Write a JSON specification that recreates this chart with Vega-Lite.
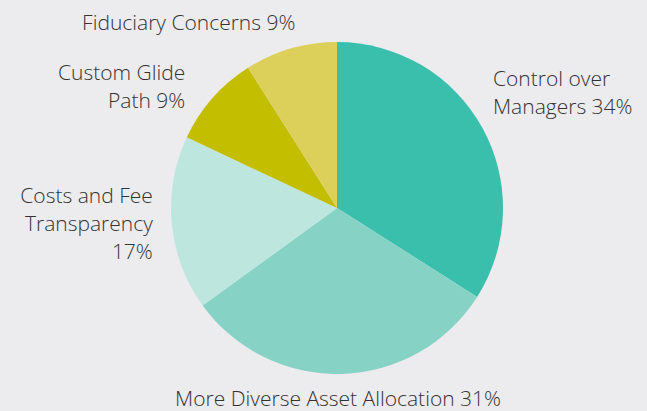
{
  "$schema": "https://vega.github.io/schema/vega-lite/v6.json",
  "width": 620,
  "height": 410,
  "autosize": {"type": "none"},
  "padding": {"left": 27, "top": 3, "right": 0, "bottom": 0},
  "background": "#ECEBEE",
  "config": {"view": {"stroke": null}},
  "data": {
    "values": [
      {"idx": 1, "cat": "Control over Managers", "pct": 34, "label": "Control over\nManagers 34%"},
      {"idx": 2, "cat": "More Diverse Asset Allocation", "pct": 31, "label": "More Diverse Asset Allocation 31%"},
      {"idx": 3, "cat": "Costs and Fee Transparency", "pct": 17, "label": "Costs and Fee\nTransparency\n17%"},
      {"idx": 4, "cat": "Custom Glide Path", "pct": 9, "label": "Custom Glide\nPath 9%"},
      {"idx": 5, "cat": "Fiduciary Concerns", "pct": 9, "label": "Fiduciary Concerns 9%"}
    ]
  },
  "encoding": {
    "theta": {"field": "pct", "type": "quantitative", "stack": true, "scale": {"domain": [0, 100]}},
    "order": {"field": "idx", "type": "quantitative"}
  },
  "layer": [
    {
      "mark": {"type": "arc", "outerRadius": 166},
      "encoding": {
        "color": {
          "field": "cat",
          "type": "nominal",
          "legend": null,
          "scale": {
            "domain": ["Control over Managers", "More Diverse Asset Allocation", "Costs and Fee Transparency", "Custom Glide Path", "Fiduciary Concerns"],
            "range": ["#3BBFAD", "#86D3C6", "#BDE6DF", "#C4BE00", "#DCD05A"]
          }
        }
      }
    },
    {
      "mark": {"type": "text", "radius": 178, "align": "left", "baseline": "middle", "dy": -42, "lineBreak": "\n", "lineHeight": 28, "font": "Open Sans", "fontWeight": 300, "fontSize": 21, "color": "#333333"},
      "encoding": {"text": {"condition": {"test": "datum.idx == 1", "field": "label"}, "value": ""}}
    },
    {
      "mark": {"type": "text", "radius": 192, "align": "center", "baseline": "middle", "dx": -5, "lineBreak": "\n", "lineHeight": 28, "font": "Open Sans", "fontWeight": 300, "fontSize": 21, "color": "#333333"},
      "encoding": {"text": {"condition": {"test": "datum.idx == 2", "field": "label"}, "value": ""}}
    },
    {
      "mark": {"type": "text", "radius": 185, "align": "right", "baseline": "middle", "dy": -28, "lineBreak": "\n", "lineHeight": 28, "font": "Open Sans", "fontWeight": 300, "fontSize": 21, "color": "#333333"},
      "encoding": {"text": {"condition": {"test": "datum.idx == 3", "field": "label"}, "value": ""}}
    },
    {
      "mark": {"type": "text", "radius": 185, "align": "right", "baseline": "middle", "dx": -13, "dy": -12, "lineBreak": "\n", "lineHeight": 28, "font": "Open Sans", "fontWeight": 300, "fontSize": 21, "color": "#333333"},
      "encoding": {"text": {"condition": {"test": "datum.idx == 4", "field": "label"}, "value": ""}}
    },
    {
      "mark": {"type": "text", "radius": 192, "align": "right", "baseline": "middle", "dx": 12, "lineBreak": "\n", "lineHeight": 28, "font": "Open Sans", "fontWeight": 300, "fontSize": 21, "color": "#333333"},
      "encoding": {"text": {"condition": {"test": "datum.idx == 5", "field": "label"}, "value": ""}}
    }
  ]
}
